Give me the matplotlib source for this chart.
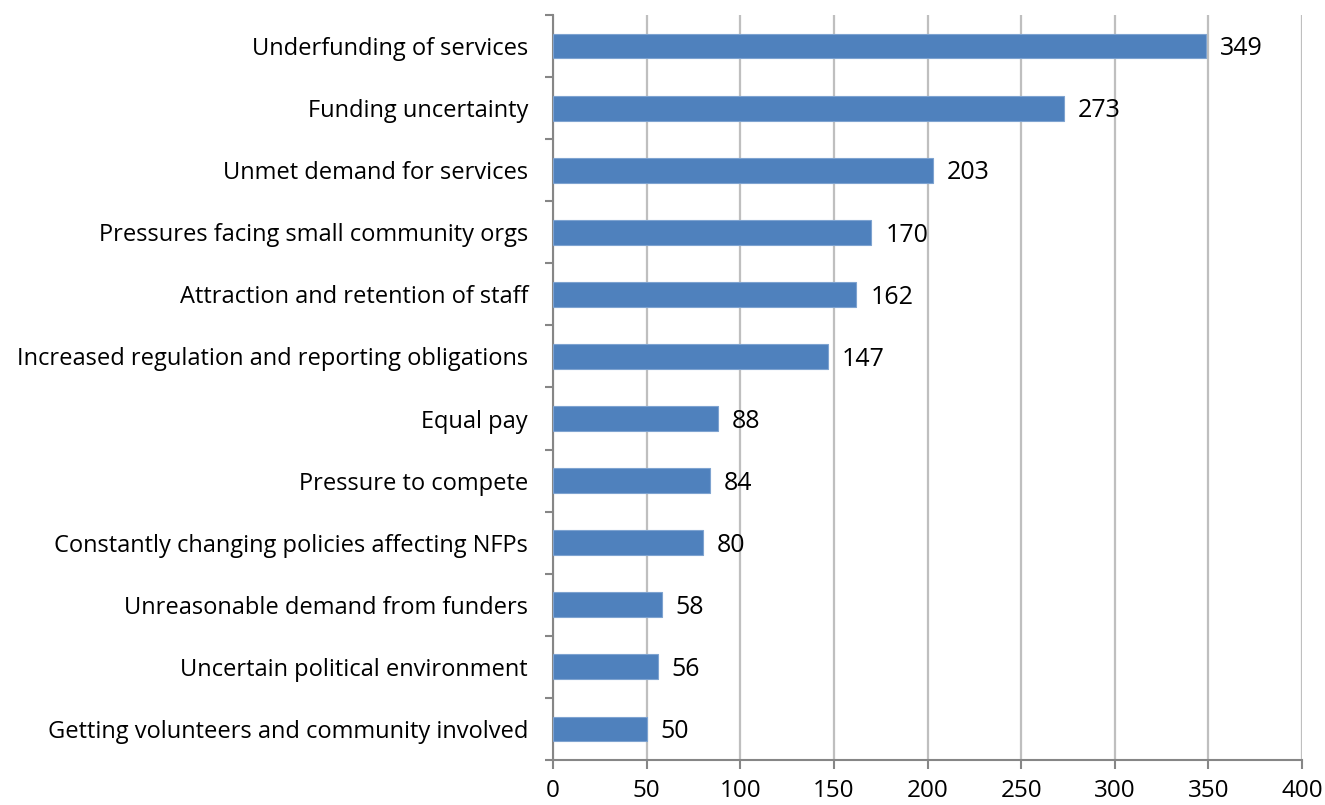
import matplotlib.pyplot as plt
import numpy as np

# Issues reported by organisations (number of responses)
issues = [
    "Underfunding of services",
    "Funding uncertainty",
    "Unmet demand for services",
    "Pressures facing small community orgs",
    "Attraction and retention of staff",
    "Increased regulation and reporting obligations",
    "Equal pay",
    "Pressure to compete",
    "Constantly changing policies affecting NFPs",
    "Unreasonable demand from funders",
    "Uncertain political environment",
    "Getting volunteers and community involved",
]
counts = [349, 273, 203, 170, 162, 147, 88, 84, 80, 58, 56, 50]
x_ticks = [0, 50, 100, 150, 200, 250, 300, 350, 400]

plt.rcParams['font.family'] = ['Open Sans', 'DejaVu Sans']
plt.rcParams['font.size'] = 17

fig = plt.figure(figsize=(13.25, 8.05), dpi=100)
ax = fig.add_axes([0.4174, 0.0559, 0.9826 - 0.4174, 0.9814 - 0.0559])

pos = np.arange(len(issues))
ax.barh(pos, counts, height=0.4, color='#4F81BD', edgecolor='#7EA3D0',
        linewidth=0.8, zorder=3)

for p, v in zip(pos, counts):
    ax.annotate(str(v), (v, p), xytext=(10, -2), textcoords='offset points',
                va='center', ha='left', color='#000000', fontsize=18)

ax.set_ylim(len(issues) - 0.5, -0.5)
ax.set_xlim(0, 400)
ax.set_xticks(x_ticks)
ax.set_yticks(pos)
ax.set_yticklabels(issues)
ax.set_yticks(np.arange(-0.5, len(issues), 1), minor=True)

ax.tick_params(axis='y', which='major', length=0, pad=18)
ax.tick_params(axis='y', which='minor', length=6, width=1.5, color='#868686')
ax.tick_params(axis='x', length=6.5, width=1.5, color='#868686', pad=7,
               labelsize=17.5)

ax.grid(axis='x', color='#BFBFBF', linewidth=1.6, zorder=0)
ax.set_axisbelow(True)

for s in ['top', 'right']:
    ax.spines[s].set_visible(False)
for s in ['left', 'bottom']:
    ax.spines[s].set_color('#868686')
    ax.spines[s].set_linewidth(1.5)

fig.savefig('out.png', dpi=100)
